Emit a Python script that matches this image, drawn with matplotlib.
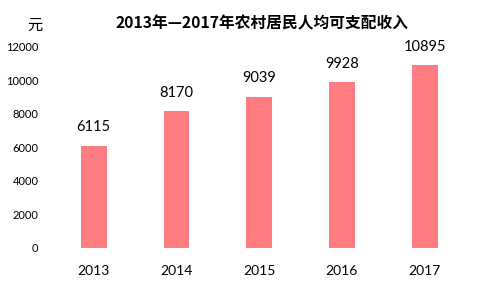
import matplotlib
matplotlib.use("Agg")
import matplotlib.pyplot as plt

years = ["2013", "2014", "2015", "2016", "2017"]
income = [6115, 8170, 9039, 9928, 10895]
yticks = [0, 2000, 4000, 6000, 8000, 10000, 12000]
title = "2013年—2017年农村居民人均可支配收入"
unit = "元"
bar_color = "#FF7C80"

fig = plt.figure(figsize=(4.8, 2.88), dpi=100)
ax = fig.add_axes([0.109, 0.139, 0.862, 0.698])
x = list(range(len(years)))
bars = ax.bar(x, income, width=0.31, color=bar_color)
ax.set_xlim(-0.5, len(years) - 0.5)
ax.set_ylim(0, 12000)
ax.set_yticks(yticks)
ax.set_yticklabels([str(v) for v in yticks], fontsize=8, family=["Lato", "DejaVu Sans"])
ax.set_xticks(x)
ax.set_xticklabels(years, fontsize=10, family=["Lato", "DejaVu Sans"])
ax.tick_params(axis="both", length=0)
ax.tick_params(axis="x", pad=12)
ax.tick_params(axis="y", pad=10)
for s in ax.spines.values():
    s.set_visible(False)
for xi, v in zip(x, income):
    ax.annotate(str(v), (xi, v), xytext=(0, 8), textcoords="offset points",
                ha="center", va="bottom", fontsize=10.5, family=["Lato", "DejaVu Sans"])
fig.text(0.546, 0.92, title, ha="center", va="center", fontsize=11.3, fontweight="bold",
         family=["Noto Sans CJK SC", "DejaVu Sans"])
fig.text(0.072, 0.913, unit, ha="center", va="center", fontsize=11,
         family=["Noto Sans CJK SC", "DejaVu Sans"])
fig.savefig("out.png", dpi=100)
